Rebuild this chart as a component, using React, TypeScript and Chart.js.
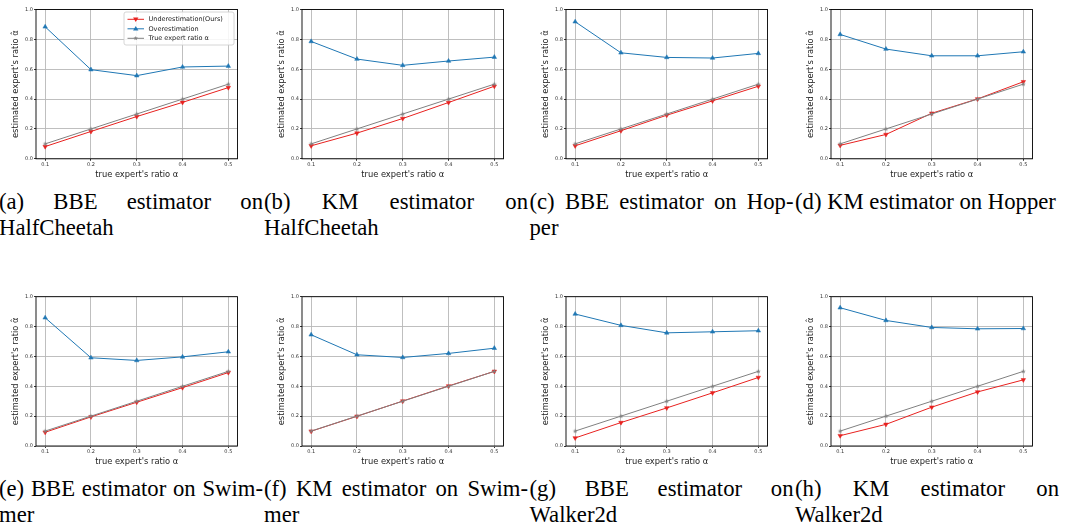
import React, { useEffect, useRef } from "react";
import { Chart, registerables } from "chart.js";

Chart.register(...registerables);

// ---------- data ----------
const alphaTicks = [0.1, 0.2, 0.3, 0.4, 0.5];
const yTicks = [0.0, 0.2, 0.4, 0.6, 0.8, 1.0];
const trueRatio = [0.1, 0.2, 0.3, 0.4, 0.5];
const seriesNames = ["Underestimation(Ours)", "Overestimation", "True expert ratio \u03b1"];

const underBBEHalfCheetah = [0.082, 0.183, 0.283, 0.378, 0.477];
const overBBEHalfCheetah = [0.884, 0.597, 0.557, 0.615, 0.621];
const underKMHalfCheetah = [0.087, 0.172, 0.27, 0.377, 0.486];
const overKMHalfCheetah = [0.786, 0.668, 0.626, 0.655, 0.681];
const underBBEHopper = [0.087, 0.188, 0.292, 0.388, 0.486];
const overBBEHopper = [0.918, 0.71, 0.679, 0.675, 0.706];
const underKMHopper = [0.09, 0.163, 0.305, 0.401, 0.516];
const overKMHopper = [0.833, 0.735, 0.69, 0.69, 0.717];
const underBBESwimmer = [0.092, 0.195, 0.293, 0.391, 0.492];
const overBBESwimmer = [0.859, 0.591, 0.573, 0.597, 0.631];
const underKMSwimmer = [0.099, 0.199, 0.301, 0.402, 0.5];
const overKMSwimmer = [0.745, 0.611, 0.593, 0.62, 0.655];
const underBBEWalker2d = [0.054, 0.157, 0.255, 0.356, 0.459];
const overBBEWalker2d = [0.884, 0.808, 0.758, 0.765, 0.772];
const underKMWalker2d = [0.069, 0.145, 0.26, 0.362, 0.443];
const overKMWalker2d = [0.926, 0.841, 0.794, 0.785, 0.787];

const captionLines1 = [
  "(a) BBE estimator on",
  "(b) KM estimator on",
  "(c) BBE estimator on Hop-",
  "(d) KM estimator on Hopper",
  "(e) BBE estimator on Swim-",
  "(f) KM estimator on Swim-",
  "(g) BBE estimator on",
  "(h) KM estimator on",
];
const captionLines2 = ["HalfCheetah", "HalfCheetah", "per", "", "mer", "mer", "Walker2d", "Walker2d"];

const panelUnder = [
  underBBEHalfCheetah, underKMHalfCheetah, underBBEHopper, underKMHopper,
  underBBESwimmer, underKMSwimmer, underBBEWalker2d, underKMWalker2d,
];
const panelOver = [
  overBBEHalfCheetah, overKMHalfCheetah, overBBEHopper, overKMHopper,
  overBBESwimmer, overKMSwimmer, overBBEWalker2d, overKMWalker2d,
];

// ---------- styling ----------
const RED = "#e8211f";
const BLUE = "#1f77b4";
const GRAY = "#808080";

const COL_X = [0, 266, 530, 795];
const ROW_Y = [0, 287];
const ROW_PAD_TOP = [9.5, 9.7];
const CAPTION_X = [-1, 264, 529.5, 795];
const CAPTION_TOP = [188.6, 475.8];
const CAN_W = 250;
const CAN_H = 185;
const Y_AXIS_W = 36;
const PLOT_W = 201.5;
const PLOT_H = 149.3;

function makeStar(color: string, r: number): HTMLCanvasElement {
  const c = document.createElement("canvas");
  const s = Math.ceil(r * 2 + 2);
  c.width = s;
  c.height = s;
  const ctx = c.getContext("2d")!;
  drawStarPath(ctx, s / 2, s / 2, r);
  ctx.fillStyle = color;
  ctx.fill();
  return c;
}

function drawStarPath(ctx: CanvasRenderingContext2D, cx: number, cy: number, r: number) {
  const inner = r * 0.42;
  ctx.beginPath();
  for (let i = 0; i < 10; i++) {
    const rad = i % 2 === 0 ? r : inner;
    const ang = -Math.PI / 2 + (i * Math.PI) / 5;
    const x = cx + rad * Math.cos(ang);
    const y = cy + rad * Math.sin(ang);
    if (i === 0) ctx.moveTo(x, y);
    else ctx.lineTo(x, y);
  }
  ctx.closePath();
}

function drawTri(ctx: CanvasRenderingContext2D, cx: number, cy: number, r: number, down: boolean) {
  const d = down ? -1 : 1;
  ctx.beginPath();
  ctx.moveTo(cx, cy - d * r);
  ctx.lineTo(cx + r * 0.95, cy + d * r * 0.6);
  ctx.lineTo(cx - r * 0.95, cy + d * r * 0.6);
  ctx.closePath();
}

const boxPlugin = {
  id: "axesBox",
  afterDatasetsDraw(chart: any) {
    const { ctx, chartArea: a } = chart;
    ctx.save();
    ctx.strokeStyle = "#000";
    ctx.lineWidth = 0.9;
    ctx.strokeRect(a.left, a.top, a.right - a.left, a.bottom - a.top);
    ctx.restore();
  },
};

const legendPlugin = {
  id: "innerLegend",
  afterDraw(chart: any) {
    const { ctx, chartArea: a } = chart;
    const right = a.right - 3.5;
    const top = a.top + 2.5;
    const w = 110;
    const h = 33;
    const left = right - w;
    ctx.save();
    ctx.fillStyle = "rgba(255,255,255,0.85)";
    ctx.strokeStyle = "#cccccc";
    ctx.lineWidth = 0.8;
    ctx.beginPath();
    (ctx as any).roundRect(left, top, w, h, 2);
    ctx.fill();
    ctx.stroke();
    const colors = [RED, BLUE, GRAY];
    const rowY = [top + 7.3, top + 16.8, top + 26.3];
    for (let i = 0; i < 3; i++) {
      const y = rowY[i];
      const x0 = left + 3.5;
      const x1 = left + 20;
      ctx.strokeStyle = colors[i];
      ctx.lineWidth = 1;
      ctx.beginPath();
      ctx.moveTo(x0, y);
      ctx.lineTo(x1, y);
      ctx.stroke();
      const mx = (x0 + x1) / 2;
      ctx.fillStyle = colors[i];
      if (i === 0) drawTri(ctx, mx, y, 2.8, true);
      else if (i === 1) drawTri(ctx, mx, y, 2.8, false);
      else drawStarPath(ctx, mx, y, 2.4);
      ctx.fill();
      ctx.fillStyle = "#222";
      ctx.font = "6.5px 'DejaVu Sans'";
      ctx.textBaseline = "middle";
      ctx.textAlign = "left";
      ctx.fillText(seriesNames[i], left + 24.5, y + 0.3);
    }
    ctx.restore();
  },
};

function Panel({ idx }: { idx: number }) {
  const ref = useRef<HTMLCanvasElement>(null);
  const col = idx % 4;
  const row = Math.floor(idx / 4);
  const padTop = ROW_PAD_TOP[row];
  const padRight = CAN_W - Y_AXIS_W - PLOT_W;
  const xAxisH = CAN_H - padTop - PLOT_H;

  useEffect(() => {
    const star = makeStar(GRAY, 2.5);
    const pts = (ys: number[]) => alphaTicks.map((x, i) => ({ x, y: ys[i] }));
    const tickFont = { family: "'DejaVu Sans'", size: 5 };
    const titleFont = { family: "'DejaVu Sans'", size: 8.3 };
    const plugins: any[] = [boxPlugin];
    if (idx === 0) plugins.push(legendPlugin);
    const chart = new Chart(ref.current!, {
      type: "line",
      data: {
        datasets: [
          {
            label: seriesNames[0],
            data: pts(panelUnder[idx]),
            borderColor: RED,
            backgroundColor: RED,
            borderWidth: 1,
            pointStyle: "triangle",
            rotation: 180,
            pointRadius: 2.6,
            pointBorderWidth: 0.5,
            pointBackgroundColor: RED,
            pointBorderColor: RED,
            order: 3,
          },
          {
            label: seriesNames[1],
            data: pts(panelOver[idx]),
            borderColor: BLUE,
            backgroundColor: BLUE,
            borderWidth: 1,
            pointStyle: "triangle",
            pointRadius: 2.6,
            pointBorderWidth: 0.5,
            pointBackgroundColor: BLUE,
            pointBorderColor: BLUE,
            order: 2,
          },
          {
            label: seriesNames[2],
            data: pts(trueRatio),
            borderColor: GRAY,
            backgroundColor: GRAY,
            borderWidth: 1,
            pointStyle: star as any,
            pointRadius: 2.5,
            order: 1,
          },
        ] as any,
      },
      options: {
        animation: false,
        responsive: false,
        maintainAspectRatio: false,
        layout: { padding: { left: 0, top: padTop, right: padRight, bottom: 0 } },
        plugins: { legend: { display: false }, tooltip: { enabled: false } },
        scales: {
          x: {
            type: "linear",
            min: 0.08,
            max: 0.52,
            afterBuildTicks: (s: any) => {
              s.ticks = alphaTicks.map((v) => ({ value: v }));
            },
            afterFit: (s: any) => {
              s.height = xAxisH;
            },
            ticks: {
              autoSkip: false,
              maxRotation: 0,
              padding: 1,
              font: tickFont,
              color: "#333",
              callback: (v: any) => Number(v).toFixed(1),
            },
            grid: { color: "#b8b8b8", lineWidth: 0.9, tickLength: 2, tickColor: "#000", tickWidth: 0.8 },
            border: { display: false },
            title: {
              display: true,
              text: "true expert's ratio \u03b1",
              font: titleFont,
              color: "#222",
              padding: { top: 0, bottom: 5.5 },
            },
          },
          y: {
            type: "linear",
            min: 0,
            max: 1,
            afterBuildTicks: (s: any) => {
              s.ticks = yTicks.map((v) => ({ value: v }));
            },
            afterFit: (s: any) => {
              s.width = Y_AXIS_W;
            },
            ticks: {
              padding: 1,
              font: tickFont,
              color: "#333",
              callback: (v: any) => Number(v).toFixed(1),
            },
            grid: { color: "#b8b8b8", lineWidth: 0.9, tickLength: 2, tickColor: "#000", tickWidth: 0.8 },
            border: { display: false },
            title: {
              display: true,
              text: "estimated expert's ratio \u03b1\u0302",
              font: titleFont,
              color: "#222",
              padding: { top: 10.5, bottom: 0 },
            },
          },
        },
      } as any,
      plugins,
    });
    return () => chart.destroy();
  }, [idx]);

  return (
    <canvas
      ref={ref}
      width={CAN_W}
      height={CAN_H}
      style={{ position: "absolute", left: COL_X[col], top: ROW_Y[row], width: CAN_W, height: CAN_H }}
    />
  );
}

function Caption({ idx }: { idx: number }) {
  const col = idx % 4;
  const row = Math.floor(idx / 4);
  const justify = captionLines2[idx] !== "";
  return (
    <div
      style={{
        position: "absolute",
        left: CAPTION_X[col],
        top: CAPTION_TOP[row],
        width: 264,
        fontFamily: "'Liberation Serif', 'Times New Roman', serif",
        fontSize: 22.7,
        lineHeight: "26px",
        color: "#000",
      }}
    >
      <div
        style={{
          textAlign: justify ? "justify" : "left",
          textAlignLast: justify ? "justify" : "left",
          whiteSpace: "nowrap",
        } as any}
      >
        {justify ? (
          <div style={{ whiteSpace: "normal", textAlign: "justify", textAlignLast: "justify" } as any}>
            {captionLines1[idx]}
          </div>
        ) : (
          captionLines1[idx]
        )}
      </div>
      {captionLines2[idx] !== "" && <div>{captionLines2[idx]}</div>}
    </div>
  );
}

export default function App() {
  const ids = [0, 1, 2, 3, 4, 5, 6, 7];
  return (
    <div style={{ position: "absolute", left: 0, top: 0, width: 1066, height: 529, background: "#fff", overflow: "hidden" }}>
      {ids.map((i) => (
        <Panel key={"p" + i} idx={i} />
      ))}
      {ids.map((i) => (
        <Caption key={"c" + i} idx={i} />
      ))}
    </div>
  );
}
